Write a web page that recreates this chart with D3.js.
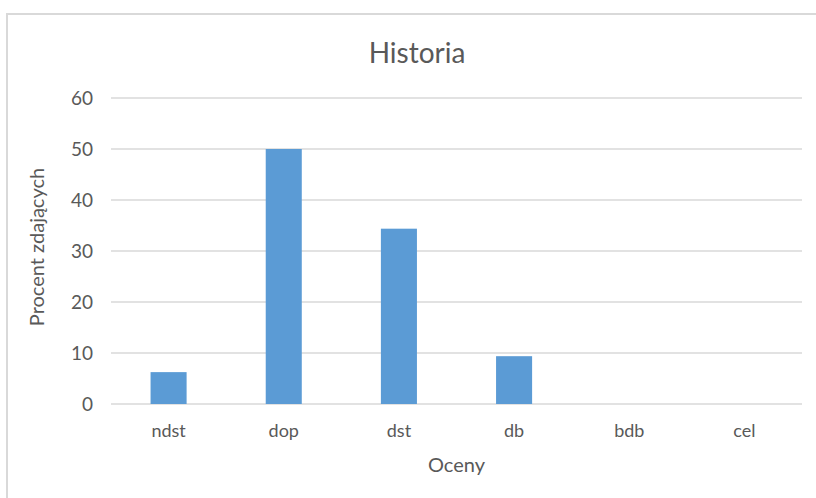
<!DOCTYPE html>
<html><head><meta charset="utf-8">
<script src="https://cdn.jsdelivr.net/npm/d3@7"></script>
<style>body{margin:0;background:#fff;}svg{display:block;font-family:Lato,"Open Sans",sans-serif;}</style>
</head><body>
<svg id="c" width="816" height="498"></svg>
<script>
const categories = ["ndst","dop","dst","db","bdb","cel"];
const values = [6.25, 50, 34.375, 9.375, 0, 0];
const yTicks = [0,10,20,30,40,50,60];
const title = "Historia";
const xTitle = "Oceny";
const yTitle = "Procent zdających";

const svg = d3.select("#c");
const m = {left:111, right:802, top:98, bottom:404};
const x = d3.scaleBand().domain(categories).range([m.left, m.right]).paddingInner(0.687).paddingOuter(0.3435);
const y = d3.scaleLinear().domain([0,60]).range([m.bottom, m.top]);

// chart border (top & left visible)
svg.append("line").attr("x1",7).attr("x2",816).attr("y1",14).attr("y2",14).attr("stroke","#d9d9d9").attr("stroke-width",2);
svg.append("line").attr("x1",7).attr("x2",7).attr("y1",13).attr("y2",498).attr("stroke","#d9d9d9").attr("stroke-width",2);

// gridlines
svg.append("g").selectAll("line").data(yTicks).join("line")
  .attr("x1",m.left).attr("x2",m.right)
  .attr("y1",d=>y(d)).attr("y2",d=>y(d))
  .attr("stroke","#d9d9d9").attr("stroke-width",1.4);

// y tick labels
const yAxis = d3.axisLeft(y).tickValues(yTicks).tickSize(0).tickPadding(0);
const gy = svg.append("g").attr("transform",`translate(93,0)`).call(yAxis);
gy.select(".domain").remove();
gy.selectAll("text").attr("fill","#595959").attr("dy","0.36em").style("font-size","19px").style("font-family","Lato,'Open Sans',sans-serif");

// bars
svg.append("g").selectAll("rect").data(categories.map((c,i)=>({c,v:values[i]})).filter(d=>d.v>0)).join("rect")
  .attr("x",d=>x(d.c)).attr("width",x.bandwidth())
  .attr("y",d=>y(d.v)).attr("height",d=>y(0)-y(d.v))
  .attr("fill","#5b9bd5");

// x tick labels
const xAxis = d3.axisBottom(x).tickSize(0).tickPadding(0);
const gx = svg.append("g").attr("transform",`translate(0,437)`).call(xAxis);
gx.select(".domain").remove();
gx.selectAll("text").attr("fill","#595959").attr("dy","0").attr("y",0).style("font-size","18px").style("font-family","Lato,'Open Sans',sans-serif");

// title
svg.append("text").attr("x",417).attr("y",63).attr("text-anchor","middle")
  .attr("fill","#595959").style("font-size","28px").text(title);

// axis titles
svg.append("text").attr("x",(m.left+m.right)/2).attr("y",472).attr("text-anchor","middle")
  .attr("fill","#595959").style("font-size","20px").text(xTitle);
svg.append("text").attr("transform",`translate(44,247) rotate(-90)`).attr("text-anchor","middle")
  .attr("fill","#595959").style("font-size","20px").text(yTitle);
</script>
</body></html>
